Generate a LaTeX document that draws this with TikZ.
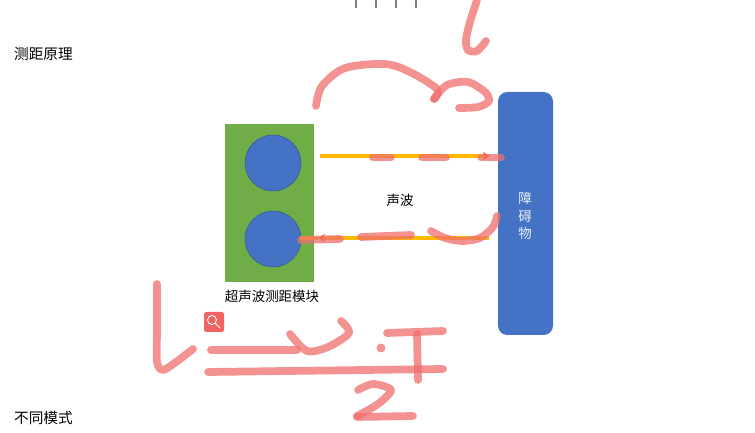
\documentclass[tikz,border=0pt]{standalone}
\usepackage{fontspec}
\setmainfont{Liberation Sans}
\newfontfamily\cjk{Noto Sans CJK SC}
\usepackage{xcolor}
\usepackage{tikz}
\usetikzlibrary{arrows.meta}
\definecolor{modgreen}{HTML}{70AD47}
\definecolor{objblue}{HTML}{4472C4}
\definecolor{objedge}{HTML}{2F5597}
\definecolor{wavey}{HTML}{FFB800}
\definecolor{waveo}{HTML}{ED5A21}
\definecolor{inkpink}{RGB}{240,110,110}
\definecolor{txtgray}{HTML}{404040}
\tikzstyle{wave} = [draw=wavey,line width=3.2pt,-{Stealth[length=6pt,width=7pt,color=waveo]}]
\tikzstyle{ink} = [inkpink,opacity=0.75,line width=6.6pt,line cap=round,line join=round]

\begin{document}
\begin{tikzpicture}[x=0.03cm, y=-0.03cm, >=Stealth,
                    font=\cjk\color{txtgray}]
    % 画布范围
    \useasboundingbox (0,0) rectangle (755,433);

    % 标题
    \node[anchor=west, font=\cjk\fontsize{12.5}{15}\selectfont] (title) at (10,54) {测距原理};
    \node[anchor=west, font=\cjk\fontsize{12.5}{15}\selectfont] (mode) at (10,418) {不同模式};

    % 超声波模块
    \node[fill=modgreen, minimum width=89*0.03cm, minimum height=158*0.03cm,
          inner sep=0pt] (module) at (269.5,203) {};
    \draw[fill=objblue, draw=objedge, thin] (273,163) circle (28);
    \draw[fill=objblue, draw=objedge, thin] (273,239) circle (28);
    \node[font=\cjk\fontsize{11.5}{14}\selectfont] (modlabel) at (272,296) {超声波测距模块};

    % 障碍物
    \node[fill=objblue, rounded corners=8pt, minimum width=55*0.03cm,
          minimum height=243*0.03cm, inner sep=0pt] (wall) at (525.5,213.5) {};
    \node[white!88!objblue, font=\cjk\fontsize{11.5}{15}\selectfont,
          align=center] (walllabel) at (525,216) {障\\碍\\物};

    % 声波
    \coordinate (tx) at (320,156);
    \coordinate (rx) at (318,238);
    \coordinate (txend) at (490,156);
    \coordinate (rxstart) at (489,238);
    \draw[wave] (tx) -- (txend);
    \draw[wave] (rxstart) -- (rx);
    \draw[draw=wavey, line width=3.2pt] (rx) -- (300,238);
    \node[font=\cjk\fontsize{11.5}{14}\selectfont] (wavelabel) at (400,200) {声波};

    % 屏幕上的小东西
    \foreach \t in {356,376,396,416}
        \draw[gray, line width=1.2pt] (\t,0) -- (\t,8);
    \node[fill=inkpink!90!red, rounded corners=2pt, minimum size=20*0.03cm,
          inner sep=0pt] (lens) at (214,322) {};
    \draw[white, line width=0.8pt] (212,320) circle (4.5) (215.5,323.5) -- (220,328);

    % 手写批注
    \draw[ink] plot[smooth] coordinates {(316,106) (322,86) (345,68) (385,64) (410,72) (437,89) (434,99)};
    \draw[ink] plot[smooth] coordinates {(434,99) (447,85) (468,82) (485,92) (489,101) (478,107) (459,108)};
    \draw[ink] plot[smooth] coordinates {(477,0) (470,22) (466,40) (468,50) (477,51) (486,41)};
    % 发射
    \draw[ink] (373,157.5) -- (391,157.5);
    \draw[ink] (422,157.5) -- (446,157.5);
    \draw[ink] (481,157.5) -- (501,157.5);
    % 接收
    \draw[ink] (301,240) -- (340,239);
    \draw[ink] (361,237) -- (411,235);
    \draw[ink] plot[smooth] coordinates {(431,231) (445,238) (462,241) (480,238) (493,227) (497,216)};

    % 公式 L = v·T/2
    \draw[ink] plot[smooth] coordinates {(157,284) (157,330) (157,362) (163,370) (176,362) (193,349)};
    \draw[ink] (211,350) -- (297,350);
    \draw[ink] (208,372) -- (443,369);
    \draw[ink] plot[smooth] coordinates {(290,334) (307,351) (328,347) (349,333) (341,321)};
    \fill[inkpink, opacity=0.75] (381,348) circle (4.5);
    \draw[ink] (387,333) -- (443,331);
    \draw[ink] (417,334) -- (418,380);
    \draw[ink] plot[smooth] coordinates {(358,390) (373,384) (391,390) (378,404) (357,416)};
    \draw[ink] (357,417) -- (413,416);
\end{tikzpicture}
\end{document}
